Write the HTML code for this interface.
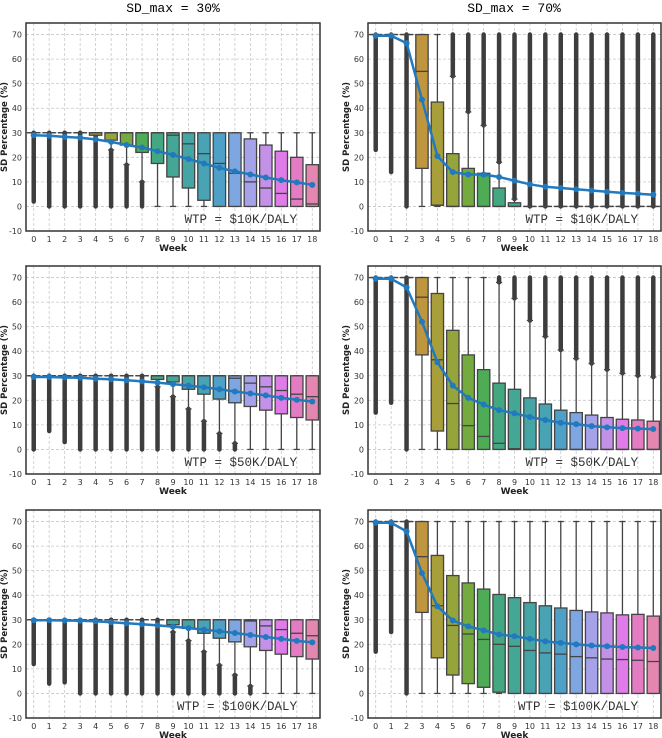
<!DOCTYPE html>
<html><head><meta charset="utf-8">
<style>
html,body{margin:0;padding:0;background:#fff;}
svg{display:block;}
text{font-family:"DejaVu Sans","Liberation Sans",sans-serif;}
</style></head>
<body>
<svg id="fig" width="662" height="738" viewBox="0 0 662 738" xmlns="http://www.w3.org/2000/svg">
<text x="173" y="12" text-anchor="middle" font-size="13" style="font-family:'Liberation Mono',monospace">SD_max = 30%</text>
<text x="514" y="12" text-anchor="middle" font-size="13" style="font-family:'Liberation Mono',monospace">SD_max = 70%</text>
</svg>
<script>
// ---- data ----
const weeks = [0,1,2,3,4,5,6,7,8,9,10,11,12,13,14,15,16,17,18];
const yTicks = [-10,0,10,20,30,40,50,60,70];
const wtpLabels = ["WTP = $10K/DALY","WTP = $50K/DALY","WTP = $100K/DALY"];

// Panel A: 30%, $10K
const aMean = [29,28.8,28.3,28,27.3,26.3,25,24,22.5,21,19.3,17.5,15.7,14.3,13,11.8,10.7,9.8,8.8];
const aQ1   = [30,30,30,30,29,27,25,22,17.5,12,7.5,2.5,0,0,0,0,0,0,0];
const aMed  = [30,30,30,30,30,30,30,30,30,29,25.5,21.5,17.5,13.5,10,7.5,5.3,3,1];
const aQ3   = [30,30,30,30,30,30,30,30,30,30,30,30,30,30,27.5,25,22.5,20,17];
const aWlo  = [30,30,30,30,29,23,17,10,0,0,0,0,0,0,0,0,0,0,0];
const aWhi  = [30,30,30,30,30,30,30,30,30,30,30,30,30,30,30,30,30,30,30];
const aFmin = [2,0,0,0,0,0,0,0,null,null,null,null,null,null,null,null,null,null,null];
const aFmax = [30,30,30,30,29,23,17,10,null,null,null,null,null,null,null,null,null,null,null];

// Panel B: 70%, $10K
const bMean = [69.5,69.5,66.5,43.5,20.5,14,13,13,12,10.5,9,8,7.5,7,6.5,6,5.5,5.2,4.8];
const bQ1   = [70,70,70,15.5,0.5,0,0,0,0,0,0,0,0,0,0,0,0,0,0];
const bMed  = [70,70,70,55,0.5,0,0,0,0,0,0,0,0,0,0,0,0,0,0];
const bQ3   = [70,70,70,70,42.5,21.5,15.5,13.5,7.5,1.5,0,0,0,0,0,0,0,0,0];
const bWlo  = [70,70,70,0,0,0,0,0,0,0,0,0,0,0,0,0,0,0,0];
const bWhi  = [70,70,70,70,70,53,38.5,33,18,3,0,0,0,0,0,0,0,0,0];
const bFmin = [23,14,0,null,null,53,38.5,33,18,3,0,0,0,0,0,0,0,0,0];
const bFmax = [70,70,70,null,null,70,70,70,70,70,70,70,70,70,70,70,70,70,70];

// Panel C: 30%, $50K
const cMean = [29.5,29.5,29.3,29.2,28.8,28.6,28.2,27.7,27.2,26.6,26,25.3,24.5,23.6,22.8,22,21,20.2,19.5];
const cQ1   = [30,30,30,30,30,30,30,30,28.5,27.5,24.5,22.5,20.5,19,17.5,16,14.5,13,12];
const cMed  = [30,30,30,30,30,30,30,30,30,30,30,30,30,29,27,25.5,24,22.5,21.5];
const cQ3   = [30,30,30,30,30,30,30,30,30,30,30,30,30,30,30,30,30,30,30];
const cWlo  = [30,30,30,30,30,30,30,30,25.5,21.5,16.5,11.5,6.5,2.5,0,0,0,0,0];
const cWhi  = [30,30,30,30,30,30,30,30,30,30,30,30,30,30,30,30,30,30,30];
const cFmin = [0,7.5,3,0,0,0,0,0,0,0,0,0,0,0,null,null,null,null,null];
const cFmax = [30,30,30,30,30,30,30,30,25.5,21.5,16.5,11.5,6.5,2.5,null,null,null,null,null];

// Panel D: 70%, $50K
const dMean = [69.5,69.5,66,52,35.5,26,21,18.3,16,14.7,13.2,12,10.8,10.3,9.5,9,8.7,8.5,8.3];
const dQ1   = [70,70,70,38.5,7.5,0,0,0,0,0,0,0,0,0,0,0,0,0,0];
const dMed  = [70,70,70,62,36.5,18.7,9.7,5.3,2.5,0.3,0,0,0,0,0,0,0,0,0];
const dQ3   = [70,70,70,70,63.5,48.5,38.5,32.5,27,24.5,21,18.5,16,15,14,13,12.3,12,11.5];
const dWlo  = [70,70,70,0,0,0,0,0,0,0,0,0,0,0,0,0,0,0,0];
const dWhi  = [70,70,70,70,70,70,70,70,68,61.5,52.5,46,40.5,37,35,32.5,31,30,29.5];
const dFmin = [15,19,0,null,null,null,null,null,68,61.5,52.5,46,40.5,37,35,32.5,31,30,29.5];
const dFmax = [70,70,70,null,null,null,null,null,70,70,70,70,70,70,70,70,70,70,70];

// Panel E: 30%, $100K
const eMean = [29.8,29.8,29.7,29.6,29.4,29,28.6,28.2,27.7,27.2,26.6,26,25.3,24.6,23.8,23,22.2,21.4,20.8];
const eQ1   = [30,30,30,30,30,30,30,30,30,28,26.5,24.5,22.5,21,19,17.5,16,15,14];
const eMed  = [30,30,30,30,30,30,30,30,30,30,30,30,30,30,29.5,27.5,26,24.5,23.5];
const eQ3   = [30,30,30,30,30,30,30,30,30,30,30,30,30,30,30,30,30,30,30];
const eWlo  = [30,30,30,30,30,30,30,30,30,25,21.5,17,11.5,7.5,3,0,0,0,0];
const eWhi  = [30,30,30,30,30,30,30,30,30,30,30,30,30,30,30,30,30,30,30];
const eFmin = [12,4,4.5,0,0,0,0,0,0,0,0,0,0,0,0,null,null,null,null];
const eFmax = [30,30,30,30,30,30,30,30,30,25,21.5,17,11.5,7.5,3,null,null,null,null];

// Panel F: 70%, $100K
const fMean = [69.5,69.5,66,49,35.5,29.7,27.3,25.7,24,23.3,22.2,21.2,20.6,20,19.5,19.2,18.9,18.7,18.5];
const fQ1   = [70,70,70,33,14.5,7.5,4,2.5,0.5,0,0,0,0,0,0,0,0,0,0];
const fMed  = [70,70,70,55.7,35.7,27.7,24.2,22,20,19.2,17.5,16.5,16,15,14.5,14,13.8,13.5,13];
const fQ3   = [70,70,70,70,56.2,48,45,42.5,40.3,39,37,35.7,34.8,33.8,33.2,32.8,32,32.2,31.5];
const fWlo  = [70,70,70,0,0,0,0,0,0,0,0,0,0,0,0,0,0,0,0];
const fWhi  = [70,70,70,70,70,70,70,70,70,70,70,70,70,70,70,70,70,70,70];
const fFmin = [17,25,0,null,null,null,null,null,null,null,null,null,null,null,null,null,null,null,null];
const fFmax = [70,70,70,null,null,null,null,null,null,null,null,null,null,null,null,null,null,null,null];

// ---- styling (not data) ----
const palette = ["#d9736f","#d4826a","#c98f50","#bf963d","#a89f3b","#96a43c","#74aa3e","#4eab56","#43a882","#44a796","#45a5a5","#48a3b5","#4fa0c7","#7ea6e0","#a6a2ea","#c491e8","#e07ce8","#e47cc4","#e387b0"];
const NS = "http://www.w3.org/2000/svg";
const svg = document.getElementById('fig');
function mk(tag, attrs, parent){
  const e = document.createElementNS(NS, tag);
  for (const k in attrs) e.setAttribute(k, attrs[k]);
  (parent||svg).appendChild(e);
  return e;
}

const panels = [
  {key:"a", col:0,row:0, m:aMean,q1:aQ1,med:aMed,q3:aQ3,wlo:aWlo,whi:aWhi,fmin:aFmin,fmax:aFmax},
  {key:"b", col:1,row:0, m:bMean,q1:bQ1,med:bMed,q3:bQ3,wlo:bWlo,whi:bWhi,fmin:bFmin,fmax:bFmax},
  {key:"c", col:0,row:1, m:cMean,q1:cQ1,med:cMed,q3:cQ3,wlo:cWlo,whi:cWhi,fmin:cFmin,fmax:cFmax},
  {key:"d", col:1,row:1, m:dMean,q1:dQ1,med:dMed,q3:dQ3,wlo:dWlo,whi:dWhi,fmin:dFmin,fmax:dFmax},
  {key:"e", col:0,row:2, m:eMean,q1:eQ1,med:eMed,q3:eQ3,wlo:eWlo,whi:eWhi,fmin:eFmin,fmax:eFmax},
  {key:"f", col:1,row:2, m:fMean,q1:fQ1,med:fMed,q3:fQ3,wlo:fWlo,whi:fWhi,fmin:fFmin,fmax:fFmax}
];
const colX = [26, 368], colW = [294, 293];
const rowY = [23, 266, 510], H = 208;
const yMin = -10, yMax = 74.7;

panels.forEach(p => {
  const x0 = colX[p.col], w = colW[p.col], y0 = rowY[p.row];
  const band = w / weeks.length;
  const xS = i => x0 + (i + 0.5) * band;
  const yS = v => y0 + H - (v - yMin) / (yMax - yMin) * H;
  const g = mk('g', {});
  
  
  yTicks.forEach(t => {
    const l = mk('line', {x1:x0, x2:x0+w, y1:yS(t), y2:yS(t), stroke:'#c8c8c8', 'stroke-width':0.8, 'stroke-dasharray':'3,2'}, g);
    
    
    const tx = mk('text', {x:x0-4, y:yS(t)+3, 'text-anchor':'end', 'font-size':8, fill:'#333'}, g);
    tx.textContent = t;
    
    
  });
  weeks.forEach((wk, i) => {
    const l = mk('line', {x1:xS(i), x2:xS(i), y1:y0, y2:y0+H, stroke:'#c8c8c8', 'stroke-width':0.8, 'stroke-dasharray':'3,2'}, g);
    
    
    const tx = mk('text', {x:xS(i), y:y0+H+11, 'text-anchor':'middle', 'font-size':8, fill:'#333'}, g);
    tx.textContent = wk;
    
    
  });
  const bw = band * 0.8;
  weeks.forEach((wk, i) => {
    const cx = xS(i);
    const bg = mk('g', {}, g);
    
    
    if (p.fmin[i] !== null) {
      const fl = mk('line', {x1:cx, x2:cx, y1:yS(p.fmin[i]), y2:yS(p.fmax[i]), stroke:'#3d3d3d', 'stroke-width':4.5, 'stroke-linecap':'round'}, bg);
      
      
    }
    const wl = mk('line', {x1:cx, x2:cx, y1:yS(p.wlo[i]), y2:yS(p.whi[i]), stroke:'#444', 'stroke-width':1.3}, bg);
    
    
    [p.wlo[i], p.whi[i]].forEach(v => {
      const c = mk('line', {x1:cx-bw/4, x2:cx+bw/4, y1:yS(v), y2:yS(v), stroke:'#444', 'stroke-width':1.3}, bg);
      
      
    });
    const r = mk('rect', {x:cx-bw/2, y:yS(p.q3[i]), width:bw, height:Math.max(0.01, yS(p.q1[i])-yS(p.q3[i])), fill:palette[i], stroke:'#444', 'stroke-width':1.3}, bg);
    
    
    const md = mk('line', {x1:cx-bw/2, x2:cx+bw/2, y1:yS(p.med[i]), y2:yS(p.med[i]), stroke:'#444', 'stroke-width':1.3}, bg);
    
    
  });
  const pts = p.m.map((v, i) => xS(i).toFixed(1) + ',' + yS(v).toFixed(1)).join(' ');
  const pl = mk('polyline', {points:pts, fill:'none', stroke:'#2279bd', 'stroke-width':2.5, 'stroke-linejoin':'round'}, g);
  
  
  p.m.forEach((v, i) => {
    const c = mk('circle', {cx:xS(i), cy:yS(v), r:3, fill:'#2279bd'}, g);
    
    
  });
  const fr = mk('rect', {x:x0, y:y0, width:w, height:H, fill:'none', stroke:'#333', 'stroke-width':1.5}, g);
  
  
  const wt = mk('text', {x:x0+w-23, y:y0+H-8, 'text-anchor':'end', 'font-size':12.5, fill:'#333', style:"font-family:'Liberation Mono',monospace"}, g);
  wt.textContent = wtpLabels[p.row];
  
  
  const xl = mk('text', {x:x0+w/2, y:y0+H+20, 'text-anchor':'middle', 'font-size':9, 'font-weight':'bold', fill:'#222'}, g);
  xl.textContent = 'Week';
  
  
  const yx = x0 - 19, yy = y0 + H/2;
  const yl = mk('text', {x:yx, y:yy, 'text-anchor':'middle', 'font-size':8.5, 'font-weight':'bold', fill:'#222', transform:'rotate(-90 '+yx+' '+yy+')'}, g);
  yl.textContent = 'SD Percentage (%)';
  
  
});
</script>
</body></html>
